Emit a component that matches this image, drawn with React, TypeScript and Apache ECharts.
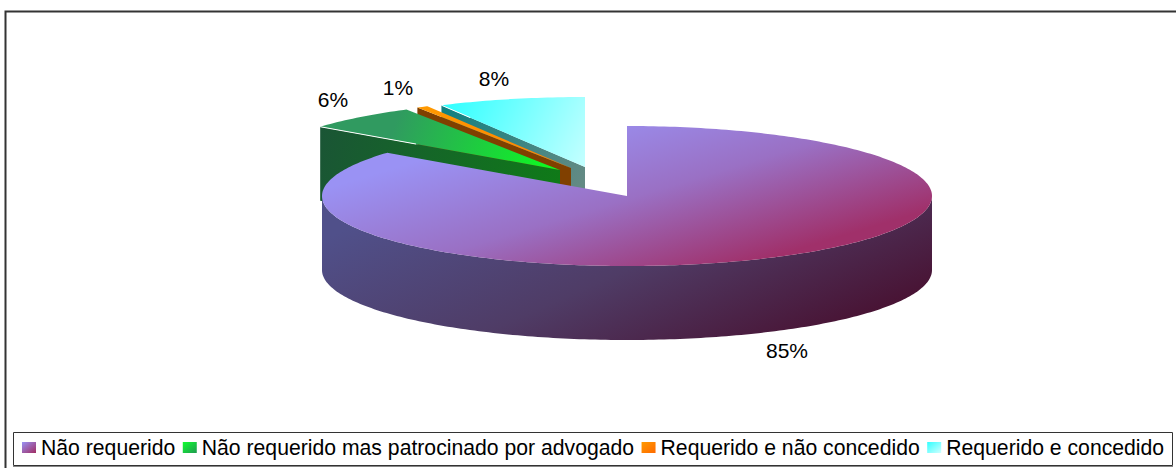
import React, { useEffect, useRef } from "react";
import * as echarts from "echarts";

const categories = ["Não requerido", "Não requerido mas patrocinado por advogado", "Requerido e não concedido", "Requerido e concedido"];
const values = [85.6, 6.0, 0.6, 7.8];
const percentLabels = ["85%", "6%", "1%", "8%"];

const CX = 627, CY = 196, RX = 305, RY = 70, DEPTH = 74;
const explode = [[0, 0], [-67, -26], [-56, -28], [-42, -29]];
const labelPos = [[787, 350], [333, 99], [398, 87], [494, 78]];
const edgeFraction = [0, 0.4, 0, 0.2];
const FONT = "'Liberation Sans', Arial, sans-serif";

const lg = (x: number, y: number, x2: number, y2: number, a: string, b: string, mid?: string) =>
  new echarts.graphic.LinearGradient(x, y, x2, y2,
    mid ? [{ offset: 0, color: a }, { offset: 0.5, color: mid }, { offset: 1, color: b }]
        : [{ offset: 0, color: a }, { offset: 1, color: b }], true);

const topFill = [
  lg(600, 106, 656, 292, "#9a92f4", "#a0306a", "#9a70c4"),
  lg(400, 110, 560, 170, "#309a60", "#0cff1e"),
  lg(420, 100, 570, 170, "#ff9a00", "#ff8000"),
  lg(450, 95, 585, 165, "#30ffff", "#c4ffff"),
];
const faceFill = ["#4a3a60", lg(320, 130, 560, 180, "#1a5535", "#0f7a18"), "#804000", lg(440, 110, 585, 180, "#0f8080", "#648a84")];
const legendFill = [
  new echarts.graphic.LinearGradient(0, 0, 1, 1, [{ offset: 0, color: "#9a92f4" }, { offset: 1, color: "#a02c62" }]),
  new echarts.graphic.LinearGradient(0, 0, 1, 1, [{ offset: 0, color: "#10ff30" }, { offset: 1, color: "#209a50" }]),
  new echarts.graphic.LinearGradient(0, 0, 1, 1, [{ offset: 0, color: "#ff9a00" }, { offset: 1, color: "#ff6a00" }]),
  new echarts.graphic.LinearGradient(0, 0, 1, 1, [{ offset: 0, color: "#30ffff" }, { offset: 1, color: "#d0ffff" }]),
];

const pt = (deg: number, ox: number, oy: number, dz = 0) => {
  const r = (deg * Math.PI) / 180;
  return [CX + ox + RX * Math.sin(r), CY + oy - RY * Math.cos(r) + dz];
};

const renderSlice = (i: number) => (_p: any, api: any) => {
  const total = values.reduce((a, b) => a + b, 0);
  const start = (values.slice(0, i).reduce((a, b) => a + b, 0) / total) * 360;
  const end = start + ((api.value(0) as number) / total) * 360;
  const [ox, oy] = explode[i];
  const children: any[] = [];
  const apex = [CX + ox, CY + oy];
  const so = pt(start, ox, oy);

  if (i === 0) {
    const a = Math.max(start, 90), b = Math.min(end, 270);
    const wall: number[][] = [];
    for (let d = a; d <= b; d += 1) wall.push(pt(d, ox, oy));
    for (let d = b; d >= a; d -= 1) wall.push(pt(d, ox, oy, DEPTH));
    children.push({ type: "polygon", shape: { points: wall }, style: { fill: lg(566, 132, 688, 408, "#50508a", "#481030", "#4f3c66") } });
  } else {
    children.push({
      type: "polygon",
      shape: { points: [apex, so, [so[0], so[1] + DEPTH], [apex[0], apex[1] + DEPTH]] },
      style: { fill: faceFill[i] },
    });
  }
  const top: number[][] = [apex];
  for (let d = start; d < end; d += 1) top.push(pt(d, ox, oy));
  top.push(pt(end, ox, oy));
  children.push({ type: "polygon", shape: { points: top }, style: { fill: topFill[i] } });
  if (edgeFraction[i] > 0) {
    const f = edgeFraction[i];
    children.push({
      type: "line",
      shape: { x1: so[0], y1: so[1], x2: so[0] + (apex[0] - so[0]) * f, y2: so[1] + (apex[1] - so[1]) * f },
      style: { stroke: "#ffffff", lineWidth: 1 },
    });
  }
  children.push({
    type: "text",
    style: {
      x: labelPos[i][0], y: labelPos[i][1], text: percentLabels[i],
      fill: "#000", font: `21px ${FONT}`, textAlign: "center", textVerticalAlign: "middle",
    },
  });
  return { type: "group", children };
};

export default function App() {
  const ref = useRef<HTMLDivElement>(null);
  useEffect(() => {
    const chart = echarts.init(ref.current!, undefined, { renderer: "svg" });
    const order = [3, 2, 1, 0];
    chart.setOption({
      animation: false,
      backgroundColor: "#ffffff",
      legend: {
        left: 17, top: 432, itemWidth: 14, itemHeight: 11, itemGap: 7.5, icon: "rect",
        selectedMode: false,
        textStyle: { fontFamily: FONT, fontSize: 21.2, color: "#000", padding: [0, 0, 0, 0] },
        data: categories.map((name, i) => ({ name, itemStyle: { color: legendFill[i] } })),
      },
      graphic: [
        { type: "rect", silent: true, z: -1, shape: { x: 5.5, y: 11.5, width: 1180, height: 470 }, style: { fill: "none", stroke: "#333", lineWidth: 2 } },
        { type: "rect", silent: true, z: -1, shape: { x: 13.5, y: 432.5, width: 1159, height: 33 }, style: { fill: "#fff", stroke: "#333", lineWidth: 1 } },
        { type: "line", silent: true, z: -1, shape: { x1: 13, y1: 466.5, x2: 1173, y2: 466.5 }, style: { stroke: "#888", lineWidth: 1 } },
      ],
      series: order.map((i) => ({
        type: "custom", name: categories[i], coordinateSystem: "none", silent: true,
        renderItem: renderSlice(i), data: [[values[i]]], itemStyle: { color: legendFill[i] },
      })),
    });
    return () => chart.dispose();
  }, []);
  return <div ref={ref} style={{ width: 1176, height: 468, position: "absolute", left: 0, top: 0 }} />;
}
